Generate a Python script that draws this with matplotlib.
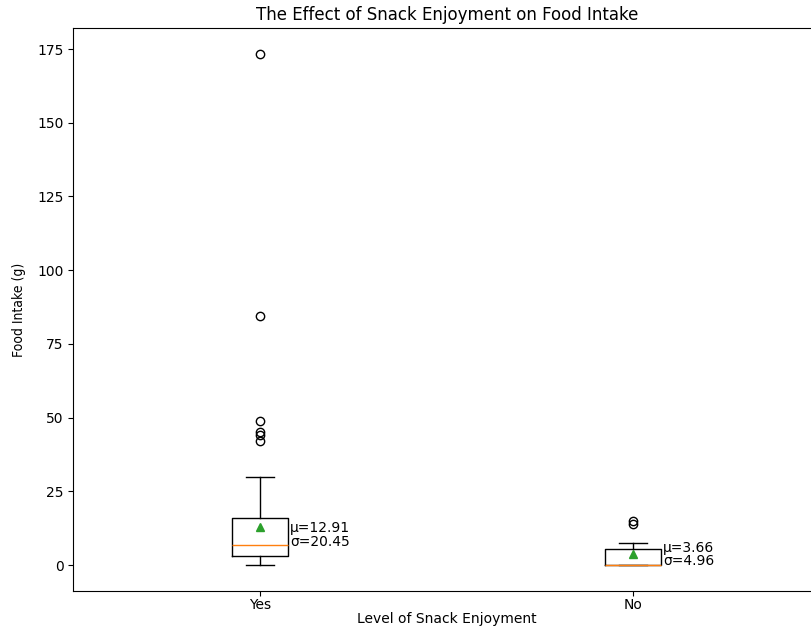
import matplotlib
matplotlib.use('Agg')
import matplotlib.pyplot as plt

# values
labels = ['Yes', 'No']
medians = [6.7, 0.0]
q1s = [3.0, 0.0]
q3s = [15.8, 5.3]
whis_lo = [0.0, 0.0]
whis_hi = [30.0, 7.6]
means = [12.91, 3.66]
stds = [20.45, 4.96]
fliers = [[42.0, 44.2, 45.2, 48.8, 84.6, 173.4], [14.0, 15.0]]
text_y = [10.2, 3.5]

stats = []
for i in range(len(labels)):
    stats.append({'label': labels[i], 'med': medians[i], 'q1': q1s[i], 'q3': q3s[i],
                  'whislo': whis_lo[i], 'whishi': whis_hi[i], 'mean': means[i],
                  'fliers': fliers[i]})

fig = plt.figure(figsize=(8.11, 6.27), dpi=100)
ax = fig.add_axes([0.0905, 0.058, 0.9207, 0.897])
ax.bxp(stats, showmeans=True)
ax.set_xlim(0.5, 2.5)
ax.tick_params(axis='x', pad=2)

for i in range(len(labels)):
    ax.text(i + 1.08, text_y[i], 'μ={:.2f}\nσ={:.2f}'.format(means[i], stds[i]),
            va='center', ha='left', fontsize=10, linespacing=0.95)

ax.set_title('The Effect of Snack Enjoyment on Food Intake')
ax.set_xlabel('Level of Snack Enjoyment', labelpad=0)
ax.set_ylabel('Food Intake (g)', fontsize=10, labelpad=8,
              family=['Liberation Sans Narrow', 'DejaVu Sans Condensed', 'DejaVu Sans'],
              stretch='condensed')

fig.savefig('out.png', dpi=100)
